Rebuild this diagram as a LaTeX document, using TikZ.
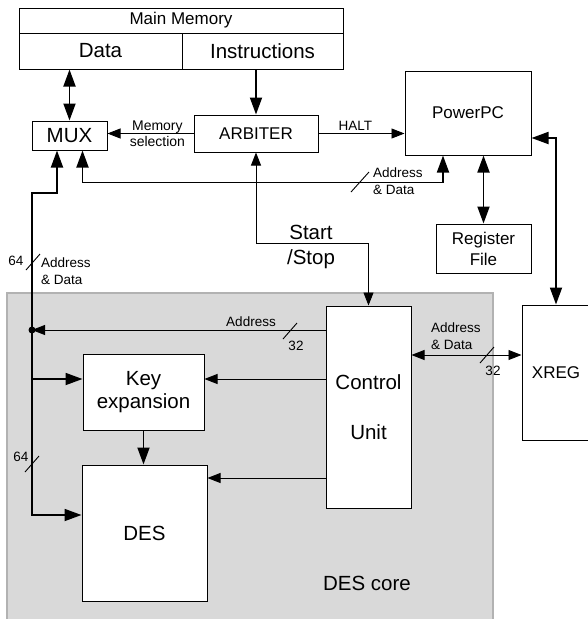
\documentclass[tikz,border=0pt]{standalone}
\usepackage{fontspec}
\setmainfont{Liberation Sans}
\usetikzlibrary{arrows.meta}

\tikzset{
  blk/.style={draw,line width=1pt,fill=white,inner sep=0pt,align=center},
  bus/.style={line width=1.8pt,>={Triangle[length=17pt,width=12pt]}},
  sig/.style={line width=0.9pt,>={Triangle[length=13pt,width=10pt]}},
  big/.style={font=\fontsize{20.5}{24}\selectfont},
  mid/.style={font=\fontsize{17}{21}\selectfont},
  lbl/.style={font=\fontsize{13.5}{16.5}\selectfont,inner sep=0pt},
}
% slash across a bus line
\newcommand{\busmark}[2][7]{\draw[sig] (#2) ++(-#1,#1+1) -- ++(2*#1,-2*#1-2);}

\begin{document}
\begin{tikzpicture}[x=1pt,y=-1pt]
\useasboundingbox (0,0) rectangle (587,619);

% DES core background
\draw[line width=1.6pt,draw=black!30,fill=black!15] (7,293) rectangle (493,622);
\node[big] (core) at (367,583) {DES core};

% memory and processor side
\node[blk,mid,minimum width=324pt,minimum height=25pt] (mem) at (181,20.5) {Main Memory};
\node[blk,big,minimum width=163pt,minimum height=36pt] (data) at (100.5,51) {Data};
\node[blk,big,minimum width=161pt,minimum height=36pt] (instr) at (262.5,51) {Instructions};
\node[blk,big,minimum width=75pt,minimum height=29pt] (mux) at (69.5,135.5) {MUX};
\node[blk,mid,minimum width=124pt,minimum height=37pt] (arb) at (256,133.5) {ARBITER};
\node[blk,mid,minimum width=126pt,minimum height=84pt] (ppc) at (468,113) {PowerPC};
\node[blk,mid,minimum width=95pt,minimum height=49pt] (reg) at (483.5,248.5) {Register\\File};
\node[blk,mid,minimum width=68pt,minimum height=135pt] (xreg) at (556,372.5) {XREG};

% core blocks
\node[blk,big,minimum width=85pt,minimum height=202pt] (ctrl) at (368.5,407) {Control\\[26pt]Unit};
\node[blk,big,minimum width=121pt,minimum height=76pt,font=\fontsize{20.5}{23}\selectfont] (key) at (143.5,392) {Key\\expansion};
\node[blk,big,minimum width=125pt,minimum height=136pt] (des) at (144.5,533) {DES};

\coordinate (j) at (32,330);
\coordinate (bend) at (32,193);
\coordinate (kin) at ([yshift=13]key.west);
\coordinate (din) at ([yshift=55]des.east);

% buses
\draw[bus,<->] (mux.north |- data.south) -- (mux.north);
\draw[bus,->] (arb.north |- instr.south) -- (arb.north);
\draw[bus,<->] (reg.north |- ppc.south) -- (reg.north);
\draw[bus,<->] ([yshift=-25]ppc.east) -| (xreg.north);
\draw[bus,<->] ([xshift=13]mux.south) -- ++(0,32) -| ([xshift=-25]ppc.south);
\draw[bus,<->] ([xshift=-12.5]mux.south) |- (bend) -- (j) |- ([yshift=18]des.west);
\draw[bus,->] (j |- kin) -- (kin);
\draw[bus,->] (key.south) -- (key.south |- des.north);
\fill (j) circle (3.5);

% control signals
\draw[sig,->] (arb.west) -- (arb.west -| mux.east)
  node[pos=0.42,lbl,align=center,font=\fontsize{14}{16}\selectfont] {Memory\\selection};
\draw[sig,->] (arb.east) -- (arb.east -| ppc.west)
  node[pos=0.43,above,lbl,inner sep=3pt] {HALT};
\draw[sig,<->] (arb.south) -- ++(0,91) -| (ctrl.north);
\node[big,align=center,font=\fontsize{20.5}{25}\selectfont] (ss) at (311,246.5) {Start\\/Stop};
\draw[sig,->] (ctrl.west |- j) -- (j);
\draw[sig,->] (ctrl.west |- kin) -- (kin -| key.east);
\draw[sig,->] (ctrl.west |- din) -- (din);
\draw[sig,<->] ([yshift=52]ctrl.east) -- ([yshift=52]ctrl.east -| xreg.west);

% bus widths
\busmark[9]{360,182}
\busmark{33,262}
\busmark{32,464}
\busmark{290,331}
\busmark{487,355}
\node[lbl,anchor=west,align=left] at (373,181) {Address\\\& Data};
\node[lbl] at (16,261) {64};
\node[lbl,anchor=west,align=left] at (41,271) {Address\\\& Data};
\node[lbl] at (21,457) {64};
\node[lbl] at (251,322) {Address};
\node[lbl] at (296,346) {32};
\node[lbl,anchor=west,align=left] at (431,336) {Address\\\& Data};
\node[lbl] at (493,371) {32};

\end{tikzpicture}
\end{document}
